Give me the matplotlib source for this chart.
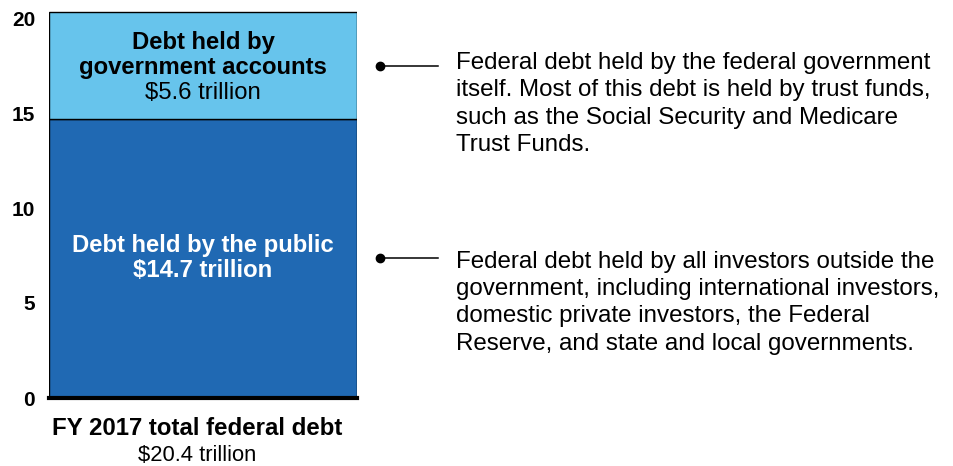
import matplotlib
matplotlib.use("Agg")
import matplotlib.pyplot as plt

plt.rcParams['font.family'] = ['Liberation Sans', 'DejaVu Sans']

# data (trillions of dollars, FY 2017)
segments = ["Debt held by the public", "Debt held by government accounts"]
values = [14.7, 5.6]
colors = ["#2069B3", "#67C4EC"]
total = 20.4
yticks = [0, 5, 10, 15, 20]
notes = [
    "Federal debt held by all investors outside the\ngovernment, including international investors,\n"
    "domestic private investors, the Federal\nReserve, and state and local governments.",
    "Federal debt held by the federal government\nitself. Most of this debt is held by trust funds,\n"
    "such as the Social Security and Medicare\nTrust Funds.",
]

fig = plt.figure(figsize=(9.54, 4.66), dpi=100)
ax = fig.add_axes([49 / 954, 68 / 466, 308 / 954, 391.4 / 466])

bottom = 0
mids = []
for val, col in zip(values, colors):
    ax.bar(0, val, width=1.0, bottom=bottom, color=col, edgecolor="black", linewidth=1.0)
    mids.append(bottom + val / 2)
    bottom += val

ax.set_xlim(-0.5, 0.5)
ax.set_ylim(0, 20.6)
ax.set_xticks([])
ax.set_yticks(yticks)
ax.set_yticklabels([str(t) for t in yticks], fontsize=15, fontweight="bold")
ax.tick_params(axis="y", length=0, pad=10)
for s in ["top", "right", "left"]:
    ax.spines[s].set_visible(False)
ax.spines["bottom"].set_linewidth(3)

fs = 17.2
# labels inside the bar
ax.text(0, mids[1] + 0.887, "Debt held by", ha="center", va="baseline",
        fontsize=fs, fontweight="bold", color="black")
ax.text(0, mids[1] - 0.429, "government accounts", ha="center", va="baseline",
        fontsize=fs, fontweight="bold", color="black")
ax.text(0, mids[1] - 1.745, "$%.1f trillion" % values[1], ha="center", va="baseline",
        fontsize=fs, color="black")
ax.text(0, mids[0] + 0.334, segments[0], ha="center", va="baseline",
        fontsize=fs, fontweight="bold", color="white")
ax.text(0, mids[0] - 0.98, "$%.1f trillion" % values[0], ha="center", va="baseline",
        fontsize=fs, fontweight="bold", color="white")

# callouts (text anchored at the baseline of its last line)
tr = ax.get_yaxis_transform()
note_offsets = [-4.82, -4.50]
for mid, note, off in zip(mids, notes, note_offsets):
    ax.plot([1.075, 1.263], [mid, mid], transform=tr, color="black", lw=1.1, clip_on=False)
    ax.plot([1.075], [mid], transform=tr, marker="o", ms=6, color="black", clip_on=False)
    ax.text(1.321, mid + off, note, transform=tr, ha="left", va="baseline", fontsize=17.4,
            linespacing=1.32, color="black")

ax.text(0.48, -0.0945, "FY 2017 total federal debt", transform=ax.transAxes, ha="center",
        va="baseline", fontsize=17.3, fontweight="bold")
ax.text(0.48, -0.161, "$%.1f trillion" % total, transform=ax.transAxes, ha="center",
        va="baseline", fontsize=15.8)

fig.savefig("out.png", dpi=100)
